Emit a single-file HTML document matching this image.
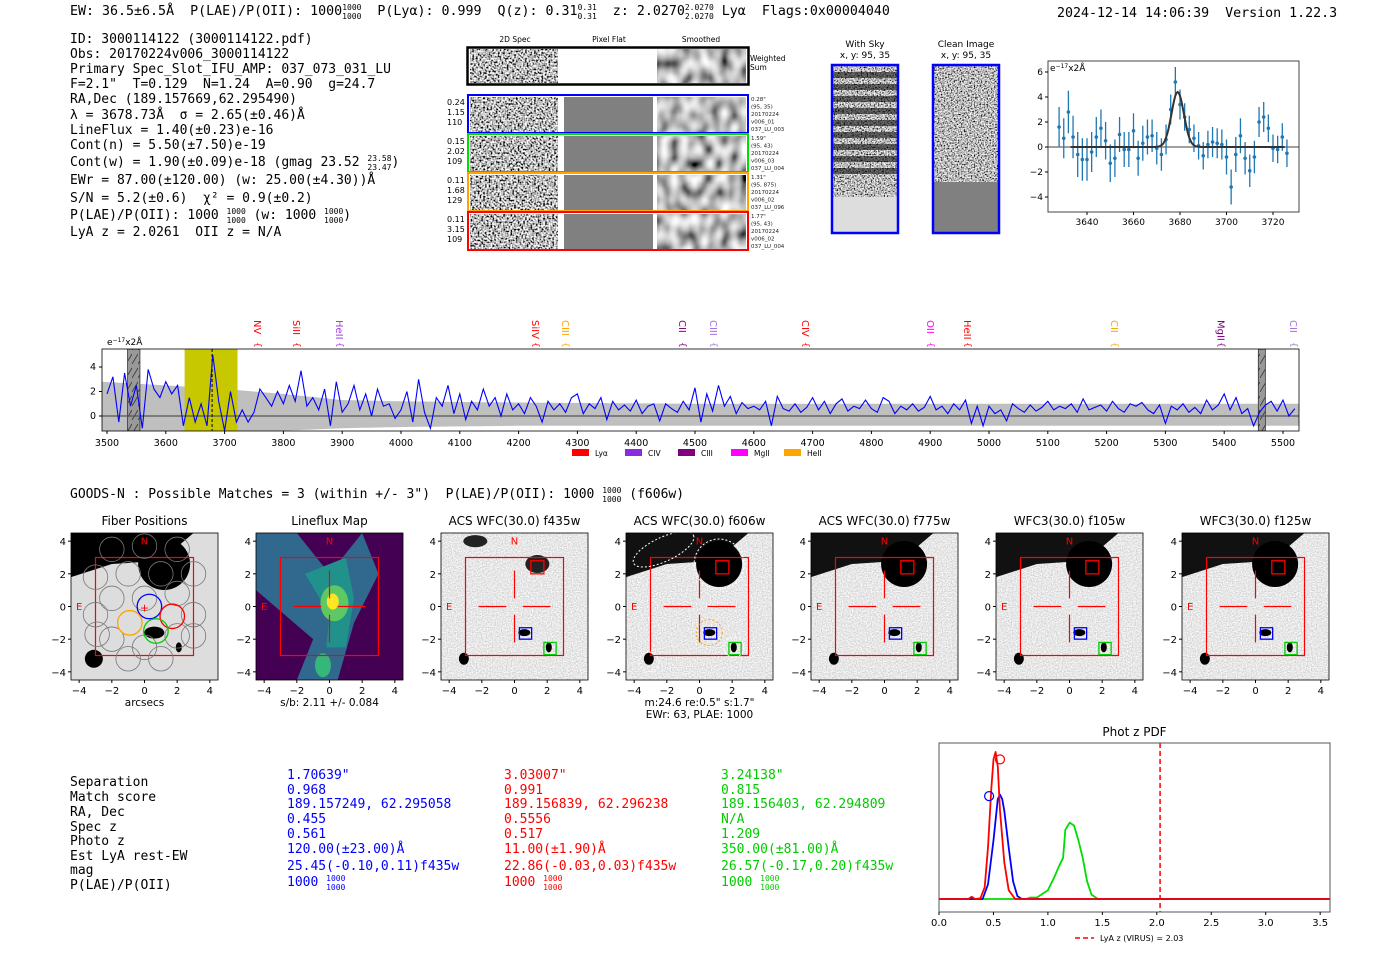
<!DOCTYPE html>
<html><head><meta charset="utf-8"><style>
body{margin:0;background:#fff;}
svg{display:block;font-family:"DejaVu Sans","Liberation Sans",sans-serif;}
.mono{font-family:"DejaVu Sans Mono","Liberation Mono",monospace;white-space:pre;}
</style></head><body>
<svg id="s" width="1400" height="953" viewBox="0 0 1400 953" xmlns="http://www.w3.org/2000/svg" xml:space="preserve">
<defs>
<filter id="noise" x="0" y="0" width="100%" height="100%"><feTurbulence type="fractalNoise" baseFrequency="0.55" numOctaves="1" seed="3"/><feColorMatrix type="matrix" values="3 0 0 0 -1.0  3 0 0 0 -1.0  3 0 0 0 -1.0  0 0 0 0 1"/></filter>
<filter id="smooth" x="0" y="0" width="100%" height="100%"><feTurbulence type="fractalNoise" baseFrequency="0.1 0.07" numOctaves="1" seed="5"/><feColorMatrix type="matrix" values="1.8 0 0 0 -0.4  1.8 0 0 0 -0.4  1.8 0 0 0 -0.4  0 0 0 0 1"/></filter>
<filter id="sky" x="0" y="0" width="100%" height="100%"><feTurbulence type="fractalNoise" baseFrequency="0.7" numOctaves="1" seed="8"/><feColorMatrix type="matrix" values="2.5 0 0 0 -0.75  2.5 0 0 0 -0.75  2.5 0 0 0 -0.75  0 0 0 0 1"/></filter>
<filter id="skyfine" x="0" y="0" width="100%" height="100%"><feTurbulence type="fractalNoise" baseFrequency="0.8" numOctaves="1" seed="11"/><feColorMatrix type="matrix" values="0.8 0 0 0 0.4  0.8 0 0 0 0.4  0.8 0 0 0 0.4  0 0 0 0 1"/></filter>
<pattern id="hatch" width="6" height="14" patternUnits="userSpaceOnUse"><rect width="6" height="14" fill="#999"/><line x1="0" y1="14" x2="6" y2="4" stroke="#333" stroke-width="0.8"/></pattern>
<pattern id="stripes" width="66" height="12" patternUnits="userSpaceOnUse"><rect width="66" height="6" fill="#000" opacity="0.55"/></pattern>
</defs>

<text class="mono" x="70" y="15" font-size="13.3">EW: 36.5±6.5Å&#160; P(LAE)/P(OII): 1000<tspan font-size="8" dy="-5">1000</tspan><tspan font-size="8" dx="-19.3" dy="9">1000</tspan><tspan dy="-4">&#160; P(Lyα): 0.999&#160; Q(z): 0.31</tspan><tspan font-size="8" dy="-5">0.31</tspan><tspan font-size="8" dx="-19.3" dy="9">0.31</tspan><tspan dy="-4">&#160; z: 2.0270</tspan><tspan font-size="8" dy="-5">2.0270</tspan><tspan font-size="8" dx="-28.9" dy="9">2.0270</tspan><tspan dy="-4"> Lyα&#160; Flags:0x00004040</tspan></text>
<text class="mono" x="1057" y="17" font-size="13.3">2024-12-14 14:06:39&#160; Version 1.22.3</text>

<g class="mono" font-size="13">
<text x="70" y="43">ID: 3000114122 (3000114122.pdf)</text>
<text x="70" y="58">Obs: 20170224v006_3000114122</text>
<text x="70" y="73">Primary Spec_Slot_IFU_AMP: 037_073_031_LU</text>
<text x="70" y="88">F=2.1"&#160; T=0.129&#160; N=1.24&#160; A=0.90&#160; g=24.7</text>
<text x="70" y="103">RA,Dec (189.157669,62.295490)</text>
<text x="70" y="119">λ = 3678.73Å&#160; σ = 2.65(±0.46)Å</text>
<text x="70" y="134">LineFlux = 1.40(±0.23)e-16</text>
<text x="70" y="149">Cont(n) = 5.50(±7.50)e-19</text>
<text x="70" y="166">Cont(w) = 1.90(±0.09)e-18 (gmag 23.52 <tspan font-size="8" dy="-5">23.58</tspan><tspan font-size="8" dx="-24.1" dy="9">23.47</tspan><tspan dy="-4">)</tspan></text>
<text x="70" y="184">EWr = 87.00(±120.00) (w: 25.00(±4.30))Å</text>
<text x="70" y="202">S/N = 5.2(±0.6)&#160; χ² = 0.9(±0.2)</text>
<text x="70" y="219">P(LAE)/P(OII): 1000 <tspan font-size="8" dy="-5">1000</tspan><tspan font-size="8" dx="-19.3" dy="9">1000</tspan><tspan dy="-4"> (w: 1000 </tspan><tspan font-size="8" dy="-5">1000</tspan><tspan font-size="8" dx="-19.3" dy="9">1000</tspan><tspan dy="-4">)</tspan></text>
<text x="70" y="236">LyA z = 2.0261&#160; OII z = N/A</text>
</g>

<g id="spec2d">
<text x="515" y="42" font-size="7.5" text-anchor="middle">2D Spec</text>
<text x="609" y="42" font-size="7.5" text-anchor="middle">Pixel Flat</text>
<text x="701" y="42" font-size="7.5" text-anchor="middle">Smoothed</text>
</g>

<g>
<text x="865" y="47" font-size="9" text-anchor="middle">With Sky</text>
<text x="865" y="58" font-size="9" text-anchor="middle">x, y: 95, 35</text>
<rect x="832" y="65" width="66" height="132" fill="#666" filter="url(#sky)"/>
<rect x="832" y="68" width="66" height="112" fill="url(#stripes)"/>
<rect x="832" y="197" width="66" height="36" fill="#ddd"/>
<rect x="832" y="65" width="66" height="168" fill="none" stroke="#00f" stroke-width="2.5"/>
</g>
<g>
<text x="966" y="47" font-size="9" text-anchor="middle">Clean Image</text>
<text x="966" y="58" font-size="9" text-anchor="middle">x, y: 95, 35</text>
<rect x="933" y="65" width="66" height="117" fill="#777" filter="url(#sky)"/>
<rect x="933" y="182" width="66" height="51" fill="#808080"/>
<rect x="933" y="65" width="66" height="168" fill="none" stroke="#00f" stroke-width="2.5"/>
</g>

<g id="zoomplot"></g>
<g id="fullspec"></g>

<text class="mono" x="70" y="498" font-size="13">GOODS-N : Possible Matches = 3 (within +/- 3")&#160; P(LAE)/P(OII): 1000 <tspan font-size="8" dy="-5">1000</tspan><tspan font-size="8" dx="-19.3" dy="9">1000</tspan><tspan dy="-4"> (f606w)</tspan></text>

<g id="cutouts"></g>

<g class="mono" font-size="13">
<text x="70" y="786">Separation</text><text x="70" y="801">Match score</text><text x="70" y="816">RA, Dec</text><text x="70" y="831">Spec z</text><text x="70" y="845">Photo z</text><text x="70" y="860">Est LyA rest-EW</text><text x="70" y="874">mag</text><text x="70" y="889">P(LAE)/P(OII)</text>
<g fill="#0000ff"><text x="287" y="779">1.70639"</text><text x="287" y="794">0.968</text><text x="287" y="808">189.157249, 62.295058</text><text x="287" y="823">0.455</text><text x="287" y="838">0.561</text><text x="287" y="853">120.00(±23.00)Å</text><text x="287" y="870">25.45(-0.10,0.11)f435w</text><text x="287" y="886">1000 <tspan font-size="8" dy="-5">1000</tspan><tspan font-size="8" dx="-19.3" dy="9">1000</tspan></text></g>
<g fill="#ff0000"><text x="504" y="779">3.03007"</text><text x="504" y="794">0.991</text><text x="504" y="808">189.156839, 62.296238</text><text x="504" y="823">0.5556</text><text x="504" y="838">0.517</text><text x="504" y="853">11.00(±1.90)Å</text><text x="504" y="870">22.86(-0.03,0.03)f435w</text><text x="504" y="886">1000 <tspan font-size="8" dy="-5">1000</tspan><tspan font-size="8" dx="-19.3" dy="9">1000</tspan></text></g>
<g fill="#00cc00"><text x="721" y="779">3.24138"</text><text x="721" y="794">0.815</text><text x="721" y="808">189.156403, 62.294809</text><text x="721" y="823">N/A</text><text x="721" y="838">1.209</text><text x="721" y="853">350.00(±81.00)Å</text><text x="721" y="870">26.57(-0.17,0.20)f435w</text><text x="721" y="886">1000 <tspan font-size="8" dy="-5">1000</tspan><tspan font-size="8" dx="-19.3" dy="9">1000</tspan></text></g>
</g>

<g id="pdfplot"></g>
</svg>

<script>
const specWlStart = 3500, specWlStep = 10;
const specFlux = [1.8,3.2,-0.5,3.5,0.8,2.5,-1.0,3.8,2.2,1.5,2.8,1.8,2.5,
-0.8,1.5,-0.5,1.0,-0.8,5.0,1.2,-1.2,2.0,-0.5,
0.5,-0.5,0.3,2.2,1.5,0.8,2.0,1.0,2.5,1.2,3.7,0.8,
1.5,0.5,2.2,-0.8,2.8,0.3,1.0,2.5,0.5,1.8,0.0,2.2,0.8,1.0,-0.2,
0.5,2.0,-0.5,3.0,0.3,-1.0,1.5,0.8,2.5,0.2,1.8,-0.3,1.2,0.5,2.2,0.8,1.5,0.0,1.8,0.5,
1.0,0.2,1.5,0.8,-0.5,1.2,0.5,1.0,0.3,1.5,1.8,0.2,1.0,0.6,1.5,-0.3,1.2,0.5,0.9,0.4,
1.3,0.2,0.8,1.0,-0.4,1.0,0.6,0.3,1.2,0.5,2.3,-0.5,1.8,0.4,2.5,0.8,1.6,0.2,1.1,0.6,
0.8,0.5,1.2,-0.8,1.6,0.6,0.4,1.0,0.3,0.7,1.5,0.5,1.2,0.2,1.0,1.4,0.4,0.8,0.6,1.3,
0.6,0.3,1.5,1.2,0.2,0.8,0.5,1.0,0.4,0.7,1.6,0.5,0.8,0.2,1.0,0.5,1.3,-0.6,0.8,-0.8,
0.8,0.2,0.5,-0.4,1.0,0.6,0.3,0.9,0.4,0.7,1.2,0.5,0.8,0.6,1.0,0.3,1.4,0.5,0.7,0.9,
0.4,1.2,0.6,0.3,1.0,0.8,1.1,0.5,0.2,0.9,-0.6,0.8,0.5,1.0,0.3,0.7,0.2,1.3,0.5,0.9,
1.8,0.5,1.5,0.2,0.6,-0.8,0.3,0.9,1.2,0.4,1.3,0.0,0.6];
const errWl = [3490,3600,3700,3750,3800,3900,4000,4200,4500,5000,5530];
const errUpper = [2.8,2.5,2.2,2.0,1.8,1.3,1.2,1.1,1.0,1.0,1.0];
const errLower = [-1.4,-1.4,-1.4,-1.3,-1.2,-1.0,-0.9,-0.8,-0.8,-0.8,-0.8];
const specXTicks = [3500,3600,3700,3800,3900,4000,4100,4200,4300,4400,4500,4600,4700,4800,4900,5000,5100,5200,5300,5400,5500];
const specYTicks = [0,2,4];
const lineNames = ["NV","SiII","HeII","SiIV","CIII","CII","CIII","CIV","OII","HeII","CII","MgII","CII"];
const lineWl = [3757,3823,3896,4230,4281,4480,4532,4689,4901,4964,5214,5395,5519];
const lineColors = ["#ff0000","#ff0000","#a040e0","#ff0000","#ffa500","#800080","#a070e0","#ff0000","#ff00ff","#ff0000","#ffa500","#800080","#a070e0"];
const legendNames = ["Lyα","CIV","CIII","MgII","HeII"];
const legendColors = ["#ff0000","#8a2be2","#800080","#ff00ff","#ffa500"];
const lineCenter = 3678.73;

const zoomWl = [3628,3630,3632,3634,3636,3638,3640,3642,3644,3646,3648,3650,3652,3654,3656,3658,3660,3662,3664,3666,3668,3670,3672,3674,3676,3678,3680,3682,3684,3686,3688,3690,3692,3694,3696,3698,3700,3702,3704,3706,3708,3710,3712,3714,3716,3718,3720,3722,3724,3726];
const zoomFlux = [1.6,0.7,2.8,0.8,-0.6,-1.0,-1.0,-0.4,0.8,1.5,0.5,-1.3,-0.9,1.0,-0.2,-0.2,1.3,-0.9,0.3,0.8,0.9,-0.1,-0.6,0.6,3.0,5.2,3.4,2.4,1.4,0.7,0.1,-0.7,0.2,0.4,0.3,0.2,-0.8,-3.2,-0.6,0.9,-0.9,-1.9,-0.8,2.0,2.4,1.5,-0.1,-0.2,0.8,-0.5];
const zoomErr = [1.6,1.6,1.7,1.7,1.8,1.7,1.7,1.6,1.6,1.5,1.5,1.5,1.5,1.4,1.4,1.4,1.4,1.4,1.4,1.4,1.3,1.3,1.3,1.2,1.2,1.2,1.2,1.1,1.1,1.1,1.1,1.1,1.1,1.2,1.2,1.2,1.4,1.4,1.4,1.4,1.3,1.3,1.3,1.2,1.2,1.1,1.1,1.1,1.1,1.1];
const fitAmp = 4.4, fitCenter = 3679, fitSigma = 2.65;
const zoomXTicks = [3640,3660,3680,3700,3720];
const zoomYTicks = [-4,-2,0,2,4,6];

const pdfRedZ = [0,0.27,0.3,0.33,0.38,0.42,0.45,0.48,0.5,0.52,0.54,0.56,0.6,0.64,0.7,3.6];
const pdfRedP = [0,0,0.015,0,0.005,0.08,0.35,0.75,0.95,1.0,0.9,0.6,0.25,0.06,0,0];
const pdfBlueZ = [0,0.4,0.45,0.5,0.54,0.56,0.58,0.6,0.64,0.68,0.72,0.76,3.6];
const pdfBlueP = [0,0,0.1,0.4,0.68,0.71,0.68,0.6,0.35,0.12,0.02,0,0];
const pdfGreenZ = [0,0.8,0.84,0.9,1.0,1.06,1.1,1.14,1.16,1.2,1.24,1.28,1.32,1.36,1.4,1.46,3.6];
const pdfGreenP = [0,0,0.01,0.01,0.06,0.15,0.22,0.28,0.47,0.52,0.5,0.4,0.28,0.12,0.03,0,0];
const pdfXTicks = [0.0,0.5,1.0,1.5,2.0,2.5,3.0,3.5];
const lyaZ = 2.03;

const cutTitles = ["Fiber Positions","Lineflux Map","ACS WFC(30.0) f435w","ACS WFC(30.0) f606w","ACS WFC(30.0) f775w","WFC3(30.0) f105w","WFC3(30.0) f125w"];
const cutTicks = [-4,-2,0,2,4];

const NS = "http://www.w3.org/2000/svg";
function mk(tag, parent, attrs){const e=document.createElementNS(NS,tag);for(const k in attrs)e.setAttribute(k,attrs[k]);parent.appendChild(e);return e;}
function txt(parent,x,y,s,size,anchor,fill){const t=mk("text",parent,{x:x,y:y,"font-size":size,"text-anchor":anchor||"start",fill:fill||"#000"});t.textContent=s;return t;}
function interp(xs,ys,x){for(let i=0;i<xs.length-1;i++){if(x>=xs[i]&&x<=xs[i+1]){const f=(x-xs[i])/(xs[i+1]-xs[i]);return ys[i]+f*(ys[i+1]-ys[i]);}}return ys[ys.length-1];}

(function(){
  const g=document.getElementById("spec2d");
  const wb=mk("g",g,{});
  
  
  mk("rect",wb,{x:470,y:49,width:88,height:34,fill:"#888",filter:"url(#noise)"});
  mk("rect",wb,{x:657,y:49,width:89,height:34,fill:"#888",filter:"url(#smooth)"});
  mk("rect",wb,{x:467.5,y:47.5,width:281,height:37,fill:"none",stroke:"#000","stroke-width":2.5});
  txt(wb,750,61,"Weighted",7.5);txt(wb,750,70,"Sum",7.5);
  const rows=[{c:"#0000ff",y:95,l:["0.24","1.15","110"],r:["0.28\"","(95, 35)","20170224","v006_01","037_LU_003"]},
    {c:"#00e000",y:134,l:["0.15","2.02","109"],r:["1.59\"","(95, 43)","20170224","v006_03","037_LU_004"]},
    {c:"#ffa500",y:173,l:["0.11","1.68","129"],r:["1.31\"","(95, 875)","20170224","v006_02","037_LU_096"]},
    {c:"#ff0000",y:212,l:["0.11","3.15","109"],r:["1.77\"","(95, 43)","20170224","v006_02","037_LU_004"]}];
  rows.forEach((r,i)=>{
    const rg=mk("g",g,{});
    
    
    mk("rect",rg,{x:470,y:r.y+2,width:88,height:35,fill:"#888",filter:"url(#noise)"});
    mk("rect",rg,{x:564,y:r.y+2,width:89,height:35,fill:"#808080"});
    mk("rect",rg,{x:657,y:r.y+2,width:89,height:35,fill:"#888",filter:"url(#smooth)"});
    mk("rect",rg,{x:468,y:r.y,width:280,height:38,fill:"none",stroke:r.c,"stroke-width":2});
    r.l.forEach((s,j)=>txt(rg,447,r.y+10+j*10,s,8));
    r.r.forEach((s,j)=>txt(rg,751,r.y+6+j*7.5,s,5.5,"start","#222"));
  });
})();

(function(){
  const g=document.getElementById("zoomplot");
  const L=1048,R=1299,T=61,B=212;
  const x=w=>1087+(w-3640)*2.325, y=v=>147-v*12.5;
  mk("line",g,{x1:L,x2:R,y1:y(0),y2:y(0),stroke:"#000","stroke-width":0.8});
  zoomWl.forEach((w,i)=>{
    const p=mk("g",g,{});
    
    
    mk("line",p,{x1:x(w),x2:x(w),y1:y(zoomFlux[i]-zoomErr[i]),y2:y(zoomFlux[i]+zoomErr[i]),stroke:"#1f77b4","stroke-width":1.3});
    mk("circle",p,{cx:x(w),cy:y(zoomFlux[i]),r:1.8,fill:"#1f77b4"});
  });
  let d="";
  for(let w=3633;w<=3725;w+=0.5){const v=fitAmp*Math.exp(-0.5*Math.pow((w-fitCenter)/fitSigma,2));d+=(d?"L":"M")+x(w).toFixed(1)+","+y(v).toFixed(1);}
  const fit=mk("path",g,{d:d,fill:"none",stroke:"#333","stroke-width":2});
  
  
  mk("rect",g,{x:L,y:T,width:R-L,height:B-T,fill:"none",stroke:"#444","stroke-width":1});
  zoomXTicks.forEach(t=>{mk("line",g,{x1:x(t),x2:x(t),y1:B,y2:B+3,stroke:"#000"});txt(g,x(t),B+13,t,9,"middle");});
  zoomYTicks.forEach(t=>{mk("line",g,{x1:L-3,x2:L,y1:y(t),y2:y(t),stroke:"#000"});txt(g,L-5,y(t)+3,t<0?"−"+(-t):t,9,"end");});
  const u=txt(g,L+2,T+10,"e",9);const s=mk("tspan",u,{"font-size":6,dy:-3});s.textContent="−17";const s2=mk("tspan",u,{dy:3});s2.textContent="x2Å";
})();

(function(){
  const g=document.getElementById("fullspec");
  const L=102,R=1299,T=349,B=431;
  const x=w=>107+(w-3500)*0.588, y=v=>416-v*12.25;
  const clip=mk("clipPath",g,{id:"specclip"});mk("rect",clip,{x:L,y:T,width:R-L,height:B-T});
  const inner=mk("g",g,{"clip-path":"url(#specclip)"});
  let up="",lo="";
  for(let w=3490;w<=5530;w+=5){up+=(up?"L":"M")+x(w).toFixed(1)+","+y(interp(errWl,errUpper,w)).toFixed(1);}
  for(let w=5530;w>=3490;w-=5){lo+="L"+x(w).toFixed(1)+","+y(interp(errWl,errLower,w)).toFixed(1);}
  const band=mk("path",inner,{d:up+lo+"Z",fill:"#bfbfbf"});
  
  
  const yb=mk("rect",inner,{x:x(3632),y:T,width:x(3722)-x(3632),height:B-T,fill:"#c8c800"});
  
  
  [[3535,3556],[5458,5470]].forEach(r=>{const h=mk("rect",inner,{x:x(r[0]),y:T,width:x(r[1])-x(r[0]),height:B-T,fill:"url(#hatch)",stroke:"#333","stroke-width":0.8});});
  mk("line",inner,{x1:L,x2:R,y1:y(0),y2:y(0),stroke:"#555","stroke-width":1.3});
  mk("line",inner,{x1:x(lineCenter),x2:x(lineCenter),y1:T,y2:B,stroke:"#000","stroke-width":1,"stroke-dasharray":"3,2"});
  let d="";specFlux.forEach((v,i)=>{d+=(i?"L":"M")+x(specWlStart+i*specWlStep).toFixed(1)+","+y(v).toFixed(1);});
  const ln=mk("path",inner,{d:d,fill:"none",stroke:"#0000ff","stroke-width":1.1});
  
  
  mk("rect",g,{x:L,y:T,width:R-L,height:B-T,fill:"none",stroke:"#000","stroke-width":0.8});
  specXTicks.forEach(t=>{mk("line",g,{x1:x(t),x2:x(t),y1:B,y2:B+3,stroke:"#000"});txt(g,x(t),B+15,t,9.5,"middle");});
  specYTicks.forEach(t=>{mk("line",g,{x1:L-3,x2:L,y1:y(t),y2:y(t),stroke:"#000"});txt(g,L-6,y(t)+3,t,9.5,"end");});
  const u=txt(g,L+5,T-4,"e",9);const s=mk("tspan",u,{"font-size":6,dy:-3});s.textContent="−17";const s2=mk("tspan",u,{dy:3});s2.textContent="x2Å";
  lineNames.forEach((n,i)=>{
    const lg=mk("g",g,{});
    
    
    const t=txt(lg,0,0,n,10,"start",lineColors[i]);t.setAttribute("transform","translate("+(x(lineWl[i])-4)+",320) rotate(90)");
    const b=txt(lg,0,0,"{",9,"start",lineColors[i]);b.setAttribute("transform","translate("+(x(lineWl[i])-3)+",342) rotate(90)");
  });
  legendNames.forEach((n,i)=>{
    const lg=mk("g",g,{});
    
    
    const lx=572+i*53;
    mk("rect",lg,{x:lx,y:449,width:17,height:7,fill:legendColors[i]});
    txt(lg,lx+23,456,n,7.5);
  });
})();

(function(){
  const g=document.getElementById("cutouts");
  const lefts=[71,256,441,626,811,996,1182];
  lefts.forEach((L,i)=>{
    const T=533,S=147,sc=S/9;
    const x=v=>L+(v+4.5)*sc, y=v=>T+(4.5-v)*sc;
    const pg=mk("g",g,{});
    
    
    const cid="cc"+i;const cp=mk("clipPath",pg,{id:cid});mk("rect",cp,{x:L,y:T,width:S,height:S});
    const im=mk("g",pg,{"clip-path":"url(#"+cid+")"});
    if(i===1){
      mk("rect",im,{x:L,y:T,width:S,height:S,fill:"#440154"});
      mk("path",im,{d:`M${x(-4.5)},${y(4.5)}L${x(-2)},${y(4.5)}L${x(0)},${y(2)}L${x(2)},${y(4.5)}L${x(3)},${y(2)}L${x(1.5)},${y(-1)}L${x(0.5)},${y(-4.5)}L${x(-2)},${y(-4.5)}L${x(-1)},${y(-2)}L${x(-4.5)},${y(1)}Z`,fill:"#31688e"});
      mk("path",im,{d:`M${x(-1.5)},${y(2)}L${x(1)},${y(3)}L${x(1.5)},${y(0.5)}L${x(1)},${y(-2.5)}L${x(-0.2)},${y(-2.5)}L${x(0)},${y(-0.5)}Z`,fill:"#21918c"});
      mk("ellipse",im,{cx:x(0.3),cy:y(0.2),rx:14,ry:18,fill:"#5ec962"});
      mk("ellipse",im,{cx:x(0.2),cy:y(0.3),rx:6,ry:8,fill:"#fde725"});
      mk("ellipse",im,{cx:x(-0.4),cy:y(-3.6),rx:8,ry:12,fill:"#35b779"});
    } else {
      if(i===0) mk("rect",im,{x:L,y:T,width:S,height:S,fill:"#ddd"});
      else mk("rect",im,{x:L,y:T,width:S,height:S,fill:"#ccc",filter:"url(#skyfine)"});
      if(i===0||i>=3){
        mk("path",im,{d:`M${x(-4.5)},${y(4.5)}L${x(3)},${y(4.5)}L${x(1)},${y(2.8)}L${x(-2)},${y(2.6)}L${x(-4.5)},${y(1.8)}Z`,fill:i===0?"#000":"#111"});
        mk("circle",im,{cx:x(1.2),cy:y(2.6),r:i===0?26:23,fill:"#000"});
      } else {
        mk("ellipse",im,{cx:x(-2.4),cy:y(4),rx:12,ry:6,fill:"#222"});
        mk("ellipse",im,{cx:x(1.4),cy:y(2.6),rx:12,ry:9,fill:"#222"});
      }
      mk("ellipse",im,{cx:x(-3.1),cy:y(-3.2),rx:i===0?9:5,ry:i===0?9:6,fill:"#000"});
      mk("ellipse",im,{cx:x(0.6),cy:y(-1.6),rx:i===0?10:6,ry:i===0?6:3.5,fill:"#000"});
      mk("ellipse",im,{cx:x(2.1),cy:y(-2.5),rx:3,ry:5,fill:"#000"});
    }
    mk("rect",pg,{x:x(-3),y:y(3),width:6*sc,height:6*sc,fill:"none",stroke:"#f00","stroke-width":1.2});
    txt(pg,x(0),y(3.8),"N",10,"middle","#f00");
    txt(pg,x(-4),y(-0.2),"E",10,"middle","#f00");
    if(i===0){
      const fib=[[-2,3.5],[0,3.7],[2,3.5],[-1,2],[1,2],[3,2],[-3,1.8],[-2,0.5],[0,0.5],[2,0.8],[-3,-0.5],[3,-0.5],[-2,-2],[0,-2.5],[2,-1.8],[-1,-3.2],[1,-3.2],[-2.9,-1.7],[3,-1.8]];
      fib.forEach(f=>mk("circle",pg,{cx:x(f[0]),cy:y(f[1]),r:0.75*sc,fill:"none",stroke:"#777","stroke-width":0.8}));
      [["#00f",0.3,0],["#f00",1.7,-0.6],["#ffa500",-0.9,-1.0],["#0c0",0.7,-1.5]].forEach(c=>mk("circle",pg,{cx:x(c[1]),cy:y(c[2]),r:0.75*sc,fill:"none",stroke:c[0],"stroke-width":1.3}));
      txt(pg,x(0),y(-0.3),"+",11,"middle","#f00");
    } else {
      [[-2.2,0,-0.5,0],[0.5,0,2.2,0],[0,2.2,0,0.5],[0,-0.5,0,-2.2]].forEach(c=>mk("line",pg,{x1:x(c[0]),y1:y(c[1]),x2:x(c[2]),y2:y(c[3]),stroke:"#f00","stroke-width":1.2}));
      if(i>=2){
        mk("rect",pg,{x:x(1),y:y(2.8),width:0.8*sc,height:0.8*sc,fill:"none",stroke:"#f00","stroke-width":1.3});
        mk("rect",pg,{x:x(0.3),y:y(-1.3),width:0.75*sc,height:0.7*sc,fill:"none",stroke:"#00f","stroke-width":1.3});
        mk("rect",pg,{x:x(1.8),y:y(-2.2),width:0.75*sc,height:0.75*sc,fill:"none",stroke:"#0c0","stroke-width":1.3});
      }
      if(i===3){
        mk("circle",pg,{cx:x(1.2),cy:y(2.6),r:25,fill:"none",stroke:"#fff","stroke-dasharray":"2,2"});
        mk("ellipse",pg,{cx:x(-2.2),cy:y(3.5),rx:33,ry:12,transform:`rotate(-25 ${x(-2.2)} ${y(3.5)})`,fill:"none",stroke:"#fff","stroke-dasharray":"2,2"});
        mk("circle",pg,{cx:x(0.6),cy:y(-1.6),r:13,fill:"none",stroke:"#ffa500","stroke-dasharray":"2,2"});
        mk("circle",pg,{cx:x(2.1),cy:y(-2.5),r:10,fill:"none",stroke:"#fff","stroke-dasharray":"2,2"});
        mk("circle",pg,{cx:x(-3.1),cy:y(-3.4),r:10,fill:"none",stroke:"#fff","stroke-dasharray":"2,2"});
      }
    }
    mk("rect",pg,{x:L,y:T,width:S,height:S,fill:"none",stroke:"#000","stroke-width":0.8});
    cutTicks.forEach(t=>{
      mk("line",pg,{x1:x(t),x2:x(t),y1:T+S,y2:T+S+3,stroke:"#000"});
      txt(pg,x(t),T+S+14,t<0?"−"+(-t):t,10,"middle");
      mk("line",pg,{x1:L-3,x2:L,y1:y(t),y2:y(t),stroke:"#000"});
      txt(pg,L-5,y(t)+4,t<0?"−"+(-t):t,10,"end");
    });
    txt(pg,L+S/2,T-8,cutTitles[i],12,"middle");
    if(i===0)txt(pg,L+S/2,T+S+26,"arcsecs",10.5,"middle");
    if(i===1)txt(pg,L+S/2,T+S+26,"s/b: 2.11 +/- 0.084",10.5,"middle");
    if(i===3){txt(pg,L+S/2,T+S+26,"m:24.6  re:0.5\"  s:1.7\"",10.5,"middle");txt(pg,L+S/2,T+S+38,"EWr: 63, PLAE: 1000",10.5,"middle");}
  });
})();

(function(){
  const g=document.getElementById("pdfplot");
  const L=939,R=1330,T=743,B=912;
  const x=z=>939+z*108.9, y=p=>899-p*147;
  txt(g,(L+R)/2,T-7,"Phot z PDF",12,"middle");
  [[pdfGreenZ,pdfGreenP,"#00dd00","pdf-match-3"],[pdfBlueZ,pdfBlueP,"#0000ff","pdf-match-1"],[pdfRedZ,pdfRedP,"#ff0000","pdf-match-2"]].forEach(s=>{
    let d="";s[0].forEach((z,i)=>{d+=(i?"L":"M")+x(Math.min(z,3.59)).toFixed(1)+","+y(s[1][i]).toFixed(1);});
    const p=mk("path",g,{d:d,fill:"none",stroke:s[2],"stroke-width":1.8,"stroke-linejoin":"round"});
    
    
  });
  mk("circle",g,{cx:x(0.56),cy:y(0.95),r:4.5,fill:"none",stroke:"#f00","stroke-width":1.2});
  mk("circle",g,{cx:x(0.46),cy:y(0.7),r:4.5,fill:"none",stroke:"#00f","stroke-width":1.2});
  const vl=mk("line",g,{x1:x(lyaZ),x2:x(lyaZ),y1:T,y2:B,stroke:"#f00","stroke-width":1.5,"stroke-dasharray":"5,3"});
  
  
  mk("rect",g,{x:L,y:T,width:R-L,height:B-T,fill:"none",stroke:"#555","stroke-width":1});
  pdfXTicks.forEach(t=>{mk("line",g,{x1:x(t),x2:x(t),y1:B,y2:B+3,stroke:"#000"});txt(g,x(t),B+14,t.toFixed(1),10,"middle");});
  const lg=mk("g",g,{});
  
  
  mk("line",lg,{x1:1075,x2:1094,y1:938,y2:938,stroke:"#f00","stroke-width":1.5,"stroke-dasharray":"5,3"});
  txt(lg,1100,941,"LyA z (VIRUS) = 2.03",8);
})();
</script>
</body></html>
